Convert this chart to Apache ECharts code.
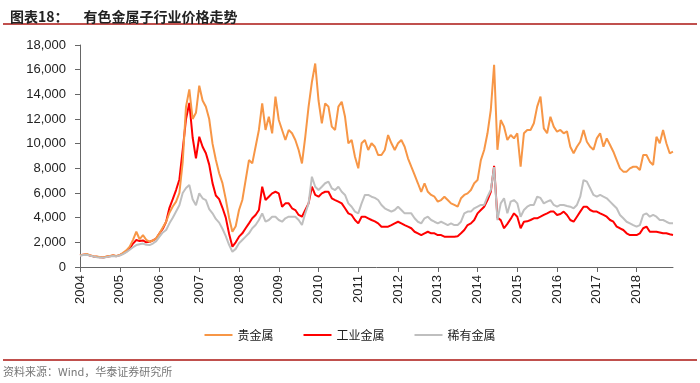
<!DOCTYPE html>
<html>
<head>
<meta charset="utf-8">
<script src="https://cdn.jsdelivr.net/npm/echarts@6/dist/echarts.min.js"></script>
<style>html,body{margin:0;padding:0;background:#fff}#c{width:700px;height:383px}</style>
</head>
<body>
<div id="c"></div>
<script>
var years = ['2004','2005','2006','2007','2008','2009','2010','2011','2012','2013','2014','2015','2016','2017','2018'];
var monthNums = ['01','02','03','04','05','06','07','08','09','10','11','12'];
var seriesNames = ['贵金属','工业金属','稀有金属'];
var yTicks = [0,2000,4000,6000,8000,10000,12000,14000,16000,18000];

var precious = [
 950,1000,1050,950,880,850,820,780,850,900,950,900,
 970,1150,1350,1650,2200,2860,2250,2590,2200,2050,2150,2320,
 2730,3200,3670,4400,4900,5300,6000,8500,13000,14400,12000,12500,
 14700,13500,13000,12000,10000,8700,7600,6800,5500,4000,2860,3300,
 4620,5430,7050,8670,8400,9750,11110,13270,11110,12180,10840,13810,
 11920,11110,10300,11110,10840,10300,9490,8400,10560,13000,15000,16500,
 13500,11650,13270,13000,11380,11110,13000,13400,12180,10030,10300,8940,
 8000,10030,10300,9490,10030,9750,9080,9080,9490,10700,10030,9490,
 10030,10300,9750,8810,8130,7460,6790,6100,6790,6100,5840,5700,
 5300,5430,5700,5430,5160,5030,4890,5570,5840,5970,6240,6790,
 7050,8670,9490,10840,12730,16400,9500,11920,11380,10300,10700,10430,
 10840,8130,10840,11110,11110,11650,13000,13810,11240,10840,12180,11380,
 10970,11110,10840,11000,9750,9220,9750,10160,11110,10160,9750,9500,
 10430,10840,9750,10430,9890,9350,8670,8000,7730,7730,8000,8130,
 8130,7860,9080,9080,8540,8270,10560,10030,11110,10030,9220,9350
];
var industrial = [
 950,1000,1020,930,860,830,800,760,830,880,930,880,
 960,1100,1250,1500,1900,2190,2100,2150,2000,2050,2150,2300,
 2730,3100,3670,4800,5500,6240,7100,9500,12000,13300,10500,8800,
 10560,9750,9220,8300,6800,5800,5500,4800,4000,2700,1650,2000,
 2460,2730,3140,3540,3950,4220,4620,6510,5430,5700,5970,6100,
 5970,4890,5160,5160,4760,4620,4220,4080,4620,5160,6510,5840,
 5700,5970,6100,6100,5570,5430,5300,5160,4760,4350,4220,3810,
 3540,4080,4080,3950,3810,3700,3540,3270,3270,3270,3400,3540,
 3670,3540,3400,3270,3140,2860,2730,2590,2730,2860,2730,2730,
 2590,2590,2460,2460,2460,2460,2500,2730,3000,3400,3540,3810,
 4350,4620,4890,5430,6100,8200,4000,3800,3140,3500,3900,4350,
 4080,3140,3670,3700,3810,3950,3950,4080,4220,4350,4490,4490,
 4220,4300,4490,4220,3810,3670,4080,4490,4890,4890,4620,4490,
 4490,4350,4220,4080,3810,3670,3270,3140,3000,2730,2590,2590,
 2590,2730,3140,3270,2860,2860,2860,2800,2730,2730,2650,2590
];
var rare = [
 920,980,1000,920,850,800,780,740,800,860,900,860,
 930,1050,1200,1400,1600,1780,1850,1900,1800,1780,1900,2100,
 2460,2800,3000,3540,4000,4500,5000,6000,6400,6650,5500,5000,
 5970,5570,5430,4700,4350,3900,3600,3100,2500,1800,1240,1470,
 1920,2190,2460,2730,3140,3400,3810,4350,3670,3810,4080,4080,
 3810,3670,3950,4080,4080,4080,3810,3400,4350,5160,7320,6510,
 6240,6510,6790,6920,6380,6240,6510,6100,5840,5160,4890,4490,
 4350,5160,5840,5840,5700,5600,5430,5030,4760,4620,4490,4620,
 4890,4620,4350,4350,4350,3950,3670,3540,3950,4080,3810,3670,
 3540,3670,3540,3400,3540,3400,3400,3670,4350,4490,4490,4760,
 4890,5030,5030,5700,6240,8100,3800,5160,5570,4350,5300,5430,
 5160,4080,4620,4890,5030,5030,5700,5600,5160,5300,5430,5030,
 4890,5030,5030,4950,4890,4760,5030,5700,7050,6920,6380,5840,
 5700,5840,5700,5570,5300,5030,4760,4220,3950,3670,3540,3400,
 3270,3400,4220,4350,4080,4220,4080,3810,3810,3670,3540,3540
];

var categories = [];
years.forEach(function (y) { monthNums.forEach(function (m) { categories.push(y + '-' + m); }); });

var isYearStart = function (idx, val) { return String(val).slice(5) === '01'; };

var chart = echarts.init(document.getElementById('c'), null, { renderer: 'canvas' });
var font = 'Liberation Sans, Arial, sans-serif';
chart.setOption({
  backgroundColor: '#fff',
  animation: false,
  title: {
    left: 5, top: 3,
    text: '{a|图表18：}   {b|有色金属子行业价格走势}',
    textStyle: {
      rich: {
        a: { fontSize: 14, fontWeight: 'bold', color: '#222', fontFamily: 'Noto Sans CJK SC, sans-serif' },
        b: { fontSize: 14, fontWeight: 'bold', color: '#222', fontFamily: 'Noto Sans CJK SC, sans-serif' }
      }
    }
  },
  graphic: [
    { type: 'line', shape: { x1: 3, y1: 24, x2: 697, y2: 24 }, style: { stroke: '#C0504D', lineWidth: 2 } },
    { type: 'line', shape: { x1: 3, y1: 360, x2: 697, y2: 360 }, style: { stroke: '#C0504D', lineWidth: 2 } },
    { type: 'text', left: 3, top: 366, style: { text: '资料来源：Wind，华泰证券研究所', fill: '#777', fontSize: 11, fontFamily: 'Noto Sans CJK SC, sans-serif' } }
  ],
  legend: {
    top: 324, left: 'center',
    data: seriesNames,
    icon: 'rect', itemWidth: 28, itemHeight: 2, itemGap: 30,
    textStyle: { fontSize: 12, color: '#222', fontFamily: 'Noto Sans CJK SC, sans-serif' }
  },
  grid: { left: 80, right: 27, top: 45, bottom: 116, containLabel: false },
  xAxis: {
    type: 'category', data: categories, boundaryGap: false,
    axisLine: { lineStyle: { color: '#666', width: 1 } },
    axisTick: { show: true, interval: isYearStart, length: 5, lineStyle: { color: '#666' } },
    axisLabel: {
      interval: isYearStart, rotate: 90, margin: 8,
      formatter: function (v) { return v.slice(0, 4); },
      fontSize: 13, color: '#222', fontFamily: font
    },
    splitLine: { show: false }
  },
  yAxis: {
    type: 'value', min: yTicks[0], max: yTicks[yTicks.length - 1], interval: 2000,
    axisLine: { show: true, lineStyle: { color: '#666', width: 1 } },
    axisTick: { show: true, length: 5, lineStyle: { color: '#666' } },
    axisLabel: {
      margin: 14, fontSize: 13, color: '#222', fontFamily: font,
      formatter: function (v) { return v.toLocaleString('en-US'); }
    },
    splitLine: { show: false }
  },
  series: [
    { name: seriesNames[0], type: 'line', data: precious, symbol: 'none', lineStyle: { color: '#F79646', width: 2 }, itemStyle: { color: '#F79646' }, z: 3 },
    { name: seriesNames[1], type: 'line', data: industrial, symbol: 'none', lineStyle: { color: '#FF0000', width: 2 }, itemStyle: { color: '#FF0000' }, z: 2 },
    { name: seriesNames[2], type: 'line', data: rare, symbol: 'none', lineStyle: { color: '#BFBFBF', width: 2 }, itemStyle: { color: '#BFBFBF' }, z: 4 }
  ]
});
</script>
</body>
</html>
